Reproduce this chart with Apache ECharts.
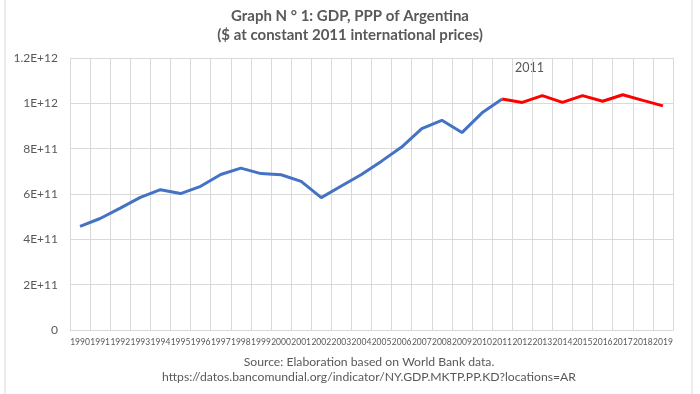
<!DOCTYPE html>
<html>
<head>
<meta charset="utf-8">
<script src="https://cdn.jsdelivr.net/npm/echarts@6/dist/echarts.min.js"></script>
<style>html,body{margin:0;padding:0;background:#fff}#c{width:700px;height:394px}</style>
</head>
<body>
<div id="c"></div>
<script>
const years = ['1990','1991','1992','1993','1994','1995','1996','1997','1998','1999','2000','2001','2002','2003','2004','2005','2006','2007','2008','2009','2010','2011','2012','2013','2014','2015','2016','2017','2018','2019'];
// GDP values 1990-2011 (blue)
const gdpBefore = [4.57e11,4.92e11,5.38e11,5.85e11,6.19e11,6.02e11,6.34e11,6.86e11,7.14e11,6.90e11,6.85e11,6.56e11,5.84e11,6.35e11,6.86e11,7.45e11,8.07e11,8.88e11,9.25e11,8.71e11,9.58e11,1.019e12];
// GDP values 2011-2019 (red)
const gdpAfter = [1.019e12,1.004e12,1.034e12,1.004e12,1.034e12,1.009e12,1.038e12,1.013e12,0.989e12];
const yTickLabels = ['0','2E+11','4E+11','6E+11','8E+11','1E+12','1.2E+12'];
const titleText = 'Graph N ° 1: GDP, PPP of Argentina\n($ at constant 2011 international prices)';
const sourceLine1 = 'Source: Elaboration based on World Bank data.';
const sourceLine2 = 'https://datos.bancomundial.org/indicator/NY.GDP.MKTP.PP.KD?locations=AR';
const annotation = '2011';

const splitIdx = years.indexOf('2011');
const blueData = years.map((y, i) => i < gdpBefore.length ? gdpBefore[i] : null);
const redData = years.map((y, i) => i >= splitIdx ? gdpAfter[i - splitIdx] : null);

const FONT = 'Lato, "Open Sans", sans-serif';
const chart = echarts.init(document.getElementById('c'), null, {renderer: 'canvas'});
chart.setOption({
  animation: false,
  backgroundColor: '#fff',
  textStyle: {fontFamily: FONT},
  title: {
    text: titleText,
    left: 'center',
    top: 2,
    textStyle: {fontFamily: FONT, fontSize: 15, fontWeight: 'bold', color: '#595959', lineHeight: 19}
  },
  grid: {left: 70, right: 27, top: 58, bottom: 64},
  xAxis: {
    type: 'category',
    data: years,
    boundaryGap: true,
    axisLine: {lineStyle: {color: '#d9d9d9'}},
    axisTick: {show: false},
    splitLine: {show: true, interval: 0, lineStyle: {color: '#d9d9d9', width: 1}},
    axisLabel: {interval: 0, fontSize: 8.5, color: '#595959', margin: 8, fontFamily: FONT}
  },
  yAxis: {
    type: 'value',
    min: 0,
    max: 1.2e12,
    interval: 2e11,
    axisLine: {show: false},
    axisTick: {show: false},
    splitLine: {lineStyle: {color: '#d9d9d9', width: 1}},
    axisLabel: {
      fontSize: 12, color: '#595959', margin: 12, fontFamily: FONT,
      formatter: (v) => yTickLabels[Math.round(v / 2e11)]
    }
  },
  series: [
    {type: 'line', data: blueData, showSymbol: false, connectNulls: false,
     lineStyle: {color: '#4472C4', width: 3}, itemStyle: {color: '#4472C4'}, z: 3},
    {type: 'line', data: redData, showSymbol: false, connectNulls: false,
     lineStyle: {color: '#FF0000', width: 3}, itemStyle: {color: '#FF0000'}, z: 4}
  ],
  graphic: [
    {type: 'rect', shape: {x: 5, y: -2, width: 687, height: 400}, style: {fill: 'none', stroke: '#d9d9d9', lineWidth: 1}, silent: true, z: -1},
    {type: 'text', left: 515, top: 61, style: {text: annotation, fontSize: 12.5, fill: '#595959', fontFamily: FONT}},
    {type: 'text', x: 369, y: 356, style: {text: sourceLine1, fontSize: 12.2, fill: '#595959', fontFamily: FONT, align: 'center'}},
    {type: 'text', x: 369, y: 371, style: {text: sourceLine2, fontSize: 12.2, fill: '#595959', fontFamily: FONT, align: 'center'}}
  ]
});
</script>
</body>
</html>
